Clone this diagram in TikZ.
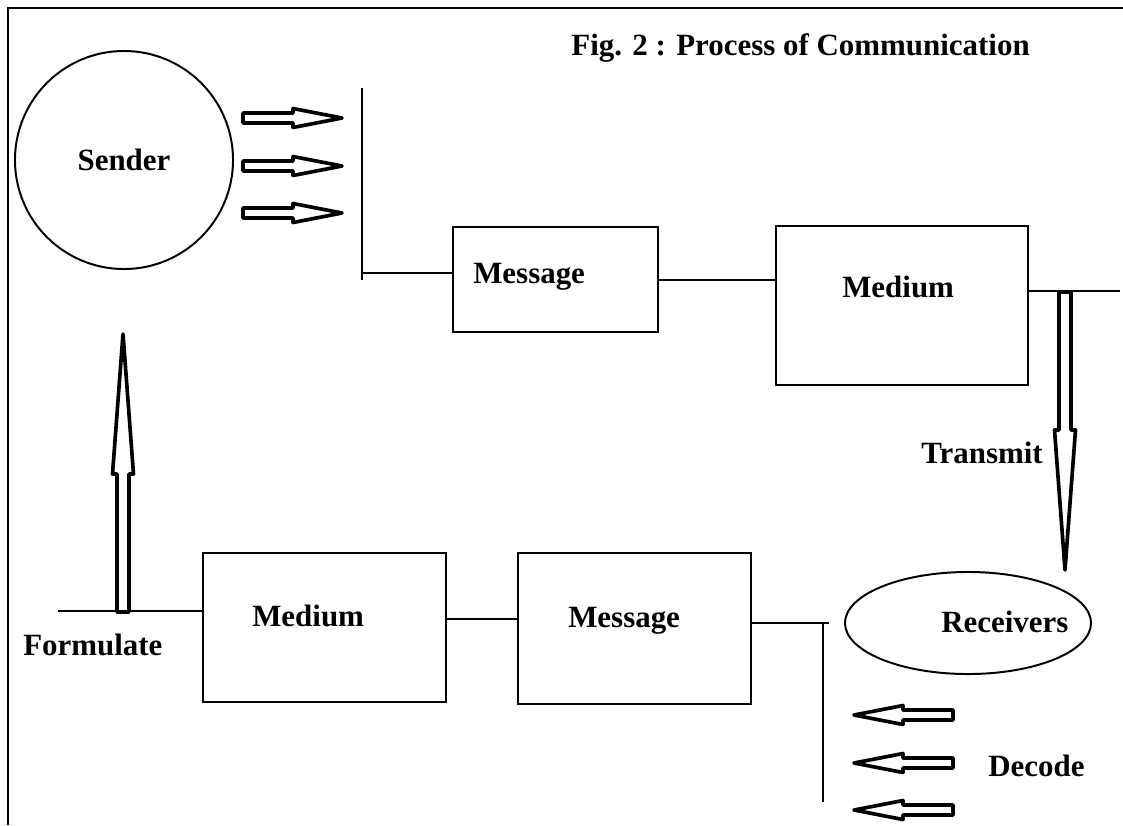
\documentclass[tikz,border=0pt]{standalone}
\usepackage{fontspec}
\setmainfont{Liberation Serif}
\usetikzlibrary{shapes.geometric}

\tikzset{
  lbl/.style={font=\bfseries\fontsize{22}{26}\selectfont, inner sep=0pt},
  blockbox/.style={draw, line width=2pt, rectangle, anchor=north west, inner sep=0pt, outer sep=0pt},
  wire/.style={line width=1.4pt},
  hollowline/.style={line width=2.6pt, fill=white, line join=round},
  pics/sendarrow/.style={code={
    \draw[hollowline] (0,-5) -- (50,-5) -- (50,-9.5) -- (99,0) -- (50,9.5) -- (50,5) -- (0,5) -- cycle;}},
  pics/longarrow/.style={code={
    \draw[hollowline] (-6,0) -- (-6,138) -- (-10.5,138) -- (0,278) -- (10.5,138) -- (6,138) -- (6,0) -- cycle;}}
}

\begin{document}
\begin{tikzpicture}[x=0.025cm,y=-0.025cm]
\useasboundingbox (0,0) rectangle (1123,825);
% frame
\draw[line width=2pt] (8,825) -- (8,8) -- (1123,8);
\node[lbl, anchor=base east] (title) at (1030,55) {Fig. 2 : Process of Communication};

% sender side
\node[draw, circle, line width=1.4pt, minimum size=5.45cm, inner sep=0pt, lbl] (sender) at (124,160) {Sender};
\coordinate (barTop) at (362,88);
\coordinate (barBot) at (362,280);
\draw[wire] (barTop) -- (barBot);
\foreach \y in {118,166,213}
  \pic at (243,\y) {sendarrow};

\node[blockbox, minimum width=5.125cm, minimum height=2.625cm] (msgA) at (453,227) {};
\node[lbl, anchor=base west] (msgAt) at (473,283) {Message};
\node[blockbox, minimum width=6.3cm, minimum height=3.975cm] (medA) at (776,226) {};
\node[lbl, anchor=base west] (medAt) at (842,297) {Medium};

\coordinate (joinA) at (362,273);
\draw[wire] (joinA) -- (joinA -| msgA.west);
\draw[wire] (msgA.east) -- (msgA.east -| medA.west);
\coordinate (outA) at (1120,291);
\draw[wire] (outA -| medA.east) -- (outA);

% transmit
\pic at (1065,292) {longarrow};
\node[lbl, anchor=base east] (transmit) at (1043,463) {Transmit};

% receiver side
\node[draw, ellipse, line width=1.4pt, minimum width=6.15cm, minimum height=2.55cm, inner sep=0pt] (recv) at (968,623) {};
\node[lbl, anchor=base west] (recvt) at (941,632) {Receivers};
\node[lbl, anchor=base west] (decode) at (988,776) {Decode};
\foreach \y in {715,763,810}
  \pic[rotate=180] at (953,\y) {sendarrow};

\node[blockbox, minimum width=6.075cm, minimum height=3.725cm] (medB) at (203,553) {};
\node[lbl, anchor=base west] (medBt) at (252,626) {Medium};
\node[blockbox, minimum width=5.825cm, minimum height=3.775cm] (msgB) at (518,553) {};
\node[lbl, anchor=base west] (msgBt) at (568,627) {Message};

\coordinate (inB) at (58,611);
\coordinate (midB) at (446,619);
\coordinate (cornerB) at (823,623);
\coordinate (endB) at (823,802);
\draw[wire] (inB) -- (inB -| medB.west);
\draw[wire] (midB) -- (midB -| msgB.west);
\draw[wire] (cornerB -| msgB.east) -- ([xshift=4] cornerB) ;
\draw[wire] (cornerB) -- (endB);

% formulate
\pic[rotate=180] at (123,612) {longarrow};
\node[lbl, anchor=base west] (formulate) at (23,655) {Formulate};
\end{tikzpicture}
\end{document}
